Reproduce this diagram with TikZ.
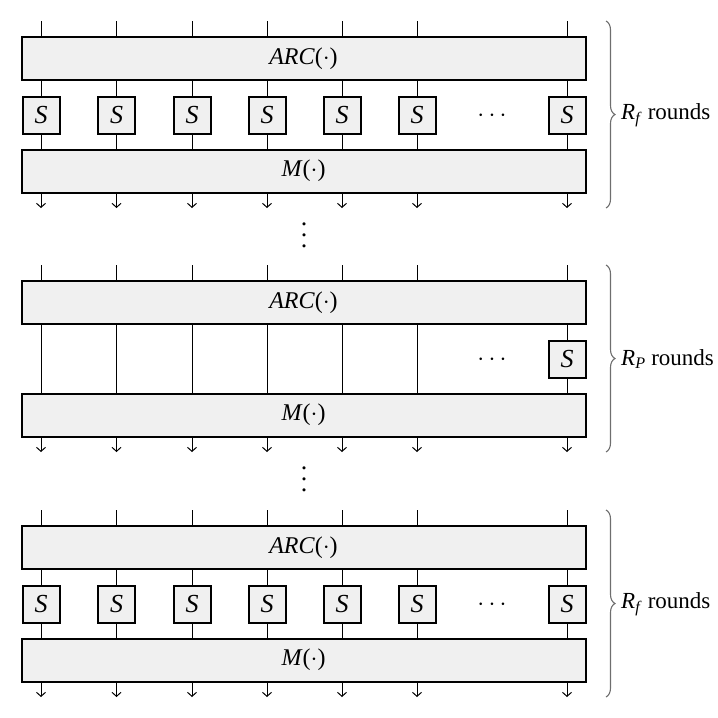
\documentclass[tikz,border=0pt]{standalone}
\usepackage{fontspec}
\setmainfont{Liberation Serif}
\usetikzlibrary{arrows.meta,decorations.pathreplacing}
\definecolor{boxgray}{RGB}{240,240,240}
\definecolor{bracegray}{RGB}{110,110,110}
\begin{document}
\begin{tikzpicture}[x=1pt,y=-1pt,font=\fontsize{24}{28}\selectfont,
  bigbox/.style={draw,line width=2pt,fill=boxgray,minimum width=564pt,minimum height=43pt,inner sep=0pt},
  sbox/.style={draw,line width=2pt,fill=boxgray,minimum size=37pt,inner sep=0pt,font=\fontsize{26}{30}\selectfont},
  wire/.style={line width=1pt},
  outarrow/.style={wire,-{Straight Barb[length=4pt,width=9pt,line width=1pt]}},
  bracestyle/.style={draw=bracegray,line width=1.1pt,decorate,decoration={brace,amplitude=9pt}},
  roundlabel/.style={anchor=west,inner sep=0pt,font=\fontsize{23}{27}\selectfont},
  vdotsnode/.style={inner sep=0pt,align=center,font=\fontsize{26}{11}\selectfont}]
\useasboundingbox (0,0) rectangle (718,718);
\foreach \b/\o in {1/0,2/244,3/489}{
  \node[bigbox] (arc\b) at (303.5,58.5+\o) {\textit{ARC}($\cdot$)};
  \node[bigbox] (m\b) at (303.5,171+\o) {\textit{M}($\cdot$)};
  \foreach \i/\x in {0/41,1/116.5,2/192,3/267,4/342,5/417,6/567}{
    \coordinate (in\b-\i) at (\x,21+\o);
    \coordinate (out\b-\i) at (\x,208+\o);
    \draw[wire] (in\b-\i) -- (in\b-\i |- arc\b.north);
    \draw[outarrow] (out\b-\i |- m\b.south) -- (out\b-\i);
    \pgfmathtruncatemacro\full{(\b!=2)||(\i==6)}
    \ifnum\full=1
      \node[sbox] (s\b-\i) at (\x,115+\o) {\textit{S}};
      \draw[wire] (s\b-\i |- arc\b.south) -- (s\b-\i.north);
      \draw[wire] (s\b-\i.south) -- (s\b-\i |- m\b.north);
    \else
      \draw[wire] (in\b-\i |- arc\b.south) -- (in\b-\i |- m\b.north);
    \fi
  }
  \node (dots\b) at (492,116+\o) {$\cdots$};
  \coordinate (brtop\b) at (606,21+\o);
  \coordinate (brbot\b) at (606,208+\o);
  \draw[bracestyle] (brtop\b) -- (brbot\b);
}
\node[roundlabel] (lab1) at (621,115) {\textit{R}\textsubscript{\textit{f}} rounds};
\node[roundlabel] (lab2) at (621,359) {\textit{R}\textsubscript{\textit{P}} rounds};
\node[roundlabel] (lab3) at (621,604) {\textit{R}\textsubscript{\textit{f}} rounds};
\node[vdotsnode] (vd1) at (304,235) {.\\.\\.};
\node[vdotsnode] (vd2) at (304,479) {.\\.\\.};
\end{tikzpicture}
\end{document}
